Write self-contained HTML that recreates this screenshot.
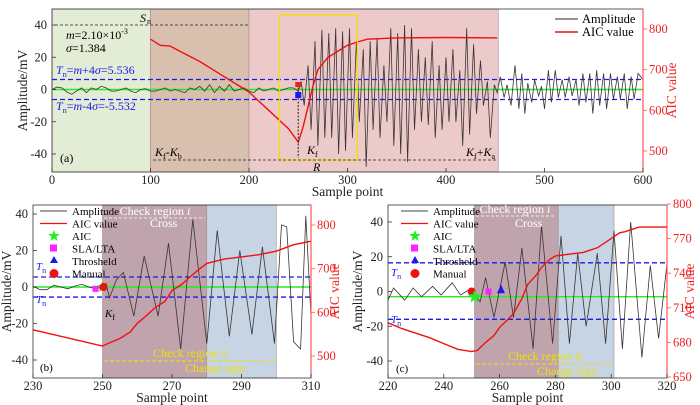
<!DOCTYPE html>
<html><head><meta charset="utf-8"><style>
html,body{margin:0;padding:0;background:#fff;}
svg{display:block;font-family:"Liberation Serif",serif;}
</style></head><body>
<svg id="fig" width="700" height="405" viewBox="0 0 700 405" xmlns="http://www.w3.org/2000/svg"></svg>
<script>
// ---------- Panel (a) data ----------
const aNoiseX = [0,5,10,15,20,25,30,35,40,45,50,55,60,65,70,75,80,85,90,95,100,105,110,115,120,125,130,135,140,145,150,155,160,165,170,175,180,185,190,195,200,205,210,215,220,225,230,235,240,245,250];
const aNoiseY = [0,1.5,1,-1.5,-3,-1,1,-2,1,0,2,1,-1,-1,0,1,-1,-2,0,0.5,-1,-1,0,1,-1,0,-1,-2,1,0,2,-1,3,-2,2,-1,3,-1,0,1,-1,-2,1,-1,0,1,-1,0,1,1,-1];
const aOscX = [253,256,260,263,267,270,274,277,281,284,288,291,295,298,302,305,309,312,316,319,323,326,330,333,337,340,344,347,351,354,358,361,365,368,372,375,379,382,386,389,393,396,400,403,407,410,414,417,421,424,428,431,435,438,442,445,449,452];
const aOscY = [5,-10,15,-25,30,-35,37,-30,35,-30,38,-40,36,-38,38,-30,30,-20,25,-48,30,-25,32,-30,15,-20,38,-35,35,-40,40,-45,38,-25,25,-20,20,-22,30,-30,15,-25,20,-20,25,-20,12,-35,38,-28,28,-15,18,-10,5,-30,3,-2];
const aTailX = [455,459,462,466,470,474,477,480,483,487,490,494,497,500,504,507,511,514,518,521,525,528,532,535,539,542,546,549,553,556,560,563,567,570,574,577,581,584,588,591,595,600];
const aTailY = [8,-5,3,-10,15,-12,10,-15,4,-8,6,-4,2,-12,12,-8,12,-5,6,-5,8,-4,6,-10,10,-8,10,-15,12,-10,10,-12,10,-6,8,-6,10,-12,8,-6,10,6];
const aAicX = [100,110,120,130,150,170,190,200,220,240,250,255,260,265,270,280,290,300,310,320,350,400,452];
const aAicY = [775,760,758,745,720,690,660,645,600,555,522,560,610,660,700,730,745,760,768,775,778,779,778];
const aXTicks = [0,100,200,300,400,500,600];
const aYTicks = [40,20,0,-20,-40];
const aRTicks = [800,700,600,500];

// ---------- Panel (b) data ----------
const bX = [230,232,234,236,238,240,242,244,246,248,250,251,252,254,256,259,262,266,269,272.5,276,280,283,286.5,289.5,293,296,299.5,301.5,303,305,307,308.5,310];
const bY = [0.5,-1.5,-1.5,1,0,-1,0.5,1.5,0,-1,0,2,-6,4,8,-16,17,-16,24,-34,37,-31,31,-27,20,-26,22,-31,34,33,-30,-34,39,-16];
const bAicX = [230,250,252,255,258,260,263,265,268,270,273,275,278,280,285,290,295,300,305,310];
const bAicY = [560,523,530,540,555,575,595,610,625,650,665,680,700,712,722,727,732,740,755,763];
const bXTicks = [230,250,270,290,310];
const bYTicks = [40,20,0,-20,-40];
const bRTicks = [800,700,600,500];

// ---------- Panel (c) data ----------
const cX = [220,222,226,229,232,236,239,243,246,249,251,253,255,258,262,265,268,272,275,279,282,285,288,291,295,298,301,304,307,311,314,317,320];
const cY = [-5,2,-5,2,-3,3,-2,5,-2,1,-2,-6,8,-15,17,-15,25,-33,38,-30,32,-30,22,-20,22,-30,35,-33,40,-38,15,-27,16];
const cAicX = [220,225,230,235,240,245,250,252,255,258,260,263,265,268,270,273,275,278,280,290,295,300,303,305,310,320];
const cAicY = [697,692,688,684,679,674,672,673,680,686,693,700,705,718,730,738,745,752,755,758,762,770,775,776,780,780];
const cXTicks = [220,240,260,280,300,320];
const cYTicks = [40,20,0,-20,-40];
const cRTicks = [800,770,740,710,680,650];

const NS = "http://www.w3.org/2000/svg";
const svg = document.getElementById('fig');
function el(tag, attrs, parent, text){
  const e = document.createElementNS(NS, tag);
  for (const k in attrs) e.setAttribute(k, attrs[k]);
  if (text !== undefined) e.textContent = text;
  (parent || svg).appendChild(e);
  return e;
}
function scale(d0,d1,r0,r1){ return v => r0 + (v-d0)/(d1-d0)*(r1-r0); }
function pathFrom(xs, ys, sx, sy){
  return xs.map((x,i)=>(i?'L':'M')+sx(x).toFixed(1)+','+sy(ys[i]).toFixed(1)).join(' ');
}

function panel(cfg){
  const g = el('g', {});
  
  
  const sx = scale(cfg.xd[0], cfg.xd[1], cfg.L, cfg.R);
  const sy = scale(cfg.yd[0], cfg.yd[1], cfg.y0a, cfg.y1a);
  const sr = scale(cfg.rd[0], cfg.rd[1], cfg.r0a, cfg.r1a);
  cfg.regions.forEach(r=>{
    const rc = el('rect', {x:sx(r[0]), y:cfg.T, width:sx(r[1])-sx(r[0]), height:cfg.B-cfg.T, fill:r[2], stroke:'#a09090','stroke-width':0.6}, g);
    
    
  });
  const gl = el('line', {x1:cfg.L, x2:cfg.R, y1:sy(cfg.green), y2:sy(cfg.green), stroke:'#22ee22','stroke-width':1.4}, g);
  
  
  cfg.thr.forEach(t=>{
    const tl = el('line', {x1:cfg.L, x2:cfg.R, y1:sy(t), y2:sy(t), stroke:'#1a1aee','stroke-width':1.3,'stroke-dasharray':'5,3'}, g);
    
    
  });
  cfg.amp.forEach(a=>{
    const p = el('path', {d:pathFrom(a[0], a[1], sx, sy), fill:'none', stroke:'#3a3434','stroke-width':0.8}, g);
    
    
  });
  const ap = el('path', {d:pathFrom(cfg.aicX, cfg.aicY, sx, sr), fill:'none', stroke:'#ee1111','stroke-width':1.4}, g);
  
  
  el('rect', {x:cfg.L, y:cfg.T, width:cfg.R-cfg.L, height:cfg.B-cfg.T, fill:'none', stroke:'#333','stroke-width':0.8}, g);
  el('line', {x1:cfg.R, x2:cfg.R, y1:cfg.T, y2:cfg.B, stroke:'#ff5555','stroke-width':1.2}, g);
  cfg.xt.forEach(t=>{
    const x = sx(t);
    el('line',{x1:x,x2:x,y1:cfg.B,y2:cfg.B-4,stroke:'#333','stroke-width':0.8},g);
    const tx = el('text',{x:x,y:cfg.B+12,'font-size':12.5,'text-anchor':'middle',fill:'#222'},g,t);
    
    
  });
  cfg.yt.forEach(t=>{
    const y = sy(t);
    el('line',{x1:cfg.L,x2:cfg.L+4,y1:y,y2:y,stroke:'#333','stroke-width':0.8},g);
    const tx = el('text',{x:cfg.L-5,y:y+4,'font-size':12.5,'text-anchor':'end',fill:'#222'},g,t);
    
    
  });
  cfg.rt.forEach(t=>{
    const y = sr(t);
    el('line',{x1:cfg.R,x2:cfg.R+4,y1:y,y2:y,stroke:'#ff5555','stroke-width':0.8},g);
    const tx = el('text',{x:cfg.R+6,y:y+4,'font-size':12.5,fill:'#ee2222'},g,t);
    
    
  });
  const xl = el('text',{x:(cfg.L+cfg.R)/2,y:cfg.B+24,'font-size':13.5,'text-anchor':'middle',fill:'#222'},g,'Sample point');
  
  
  const yl = el('text',{x:0,y:0,'font-size':13.5,'text-anchor':'middle',fill:'#222',transform:`translate(${cfg.L-cfg.ltitle},${(cfg.T+cfg.B)/2}) rotate(-90)`},g,'Amplitude/mV');
  
  
  const rl = el('text',{x:0,y:0,'font-size':13.5,'text-anchor':'middle',fill:'#ee2222',transform:`translate(${cfg.R+cfg.rtitle},${(cfg.T+cfg.B)/2}) rotate(-90)`},g,'AIC value');
  
  
  return {g, sx, sy, sr};
}

const A = panel({name:'panel-a', L:52, R:643, T:9, B:172, xd:[0,600], yd:[40,-40], y0a:25, y1a:154,
  rd:[800,500], r0a:29, r1a:151, green:0, thr:[6.2,-6.2],
  regions:[[0,100,'#e3ecd4','noise-region'],[100,200,'#d9bfae','kf-kb-region'],[200,453,'#edcaca','signal-region']],
  amp:[[aNoiseX.concat(aOscX).concat(aTailX), aNoiseY.concat(aOscY).concat(aTailY)]],
  aicX:aAicX, aicY:aAicY, xt:aXTicks, yt:aYTicks, rt:aRTicks, rtitle:33, ltitle:25});
(function(){
  const g=A.g, sx=A.sx, sy=A.sy;
  el('rect',{x:sx(231),y:15,width:sx(310)-sx(231),height:145,fill:'none',stroke:'#f0e000','stroke-width':1.3},g);
  el('line',{x1:55,x2:248,y1:25,y2:25,stroke:'#222','stroke-width':0.8,'stroke-dasharray':'3,2'},g);
  el('text',{x:140,y:22,'font-size':12,'font-style':'italic'},g,'S');
  el('text',{x:147,y:24,'font-size':8}, g,'n');
  el('text',{x:66,y:39,'font-size':12},g).innerHTML='<tspan font-style="italic">m</tspan>=2.10×10<tspan font-size="8" dy="-5">-3</tspan>';
  el('text',{x:66,y:52,'font-size':12},g).innerHTML='<tspan font-style="italic">σ</tspan>=1.384';
  el('text',{x:56,y:74,'font-size':12,fill:'#1a1aee'},g).innerHTML='<tspan font-style="italic">T</tspan><tspan font-size="8" dy="3">n</tspan><tspan dy="-3">=</tspan><tspan font-style="italic">m</tspan>+4<tspan font-style="italic">σ</tspan>=5.536';
  el('text',{x:56,y:110,'font-size':12,fill:'#1a1aee'},g).innerHTML='<tspan font-style="italic">T</tspan><tspan font-size="8" dy="3">n</tspan><tspan dy="-3">=</tspan><tspan font-style="italic">m</tspan>-4<tspan font-style="italic">σ</tspan>=-5.532';
  el('text',{x:60,y:162,'font-size':12},g,'(a)');
  el('line',{x1:153,x2:496,y1:160,y2:160,stroke:'#222','stroke-width':0.8,'stroke-dasharray':'3,2'},g);
  el('text',{x:155,y:156,'font-size':12},g).innerHTML='<tspan font-style="italic">K</tspan><tspan font-size="8" dy="3">f</tspan><tspan dy="-3">-</tspan><tspan font-style="italic">K</tspan><tspan font-size="8" dy="3">b</tspan>';
  el('text',{x:466,y:156,'font-size':12},g).innerHTML='<tspan font-style="italic">K</tspan><tspan font-size="8" dy="3">f</tspan><tspan dy="-3">+</tspan><tspan font-style="italic">K</tspan><tspan font-size="8" dy="3">a</tspan>';
  el('text',{x:307,y:154,'font-size':12},g).innerHTML='<tspan font-style="italic">K</tspan><tspan font-size="8" dy="3">f</tspan>';
  el('text',{x:313,y:171,'font-size':12,'font-style':'italic'},g,'R');
  el('line',{x1:sx(250),x2:sx(250),y1:84,y2:158,stroke:'#553333','stroke-width':1.2,'stroke-dasharray':'2,1.5'},g);
  el('rect',{x:sx(250)-3,y:82,width:6,height:5,fill:'#ee2222'},g);
  el('rect',{x:sx(250)-3,y:92,width:6,height:6,fill:'#1a1aee'},g);
  const lg=el('g',{},g);  
  el('line',{x1:555,x2:578,y1:19,y2:19,stroke:'#555','stroke-width':1.2},lg);
  el('text',{x:582,y:23,'font-size':12.5},lg,'Amplitude');
  el('line',{x1:555,x2:578,y1:32,y2:32,stroke:'#ee1111','stroke-width':1.4},lg);
  el('text',{x:582,y:36,'font-size':12.5},lg,'AIC value');
})();

function legendB(g, x, y){
  const lg=el('g',{},g);  
  const rows=['Amplitude','AIC value','AIC','SLA/LTA','Throsheld','Manual'];
  rows.forEach((r,i)=>{
    const yy=y+i*12.5;
    el('text',{x:x+27,y:yy+4,'font-size':11},lg,r);
  });
  el('line',{x1:x-5,x2:x+22,y1:y,y2:y,stroke:'#444','stroke-width':1},lg);
  el('line',{x1:x-5,x2:x+22,y1:y+12.5,y2:y+12.5,stroke:'#ee1111','stroke-width':1.3},lg);
  star(lg,x+9,y+25,6,'#22ee22');
  el('rect',{x:x+5,y:y+33.5,width:7,height:7,fill:'#ff22ff'},lg);
  el('polygon',{points:`${x+9},${y+45} ${x+13},${y+52} ${x+5},${y+52}`,fill:'#1a1aee'},lg);
  el('circle',{cx:x+9,cy:y+62.5,r:4.5,fill:'#ee1111'},lg);
}
function star(g,cx,cy,r,c){
  let p=[];for(let i=0;i<10;i++){const a=-Math.PI/2+i*Math.PI/5;const rr=i%2?r*0.42:r;p.push((cx+rr*Math.cos(a)).toFixed(1)+','+(cy+rr*Math.sin(a)).toFixed(1));}
  return el('polygon',{points:p.join(' '),fill:c},g);
}
function tn(g,x,y){
  el('text',{x:x,y:y,'font-size':11,fill:'#1a1aee'},g).innerHTML='<tspan font-style="italic">T</tspan><tspan font-size="8" dy="3">n</tspan>';
}

const Bp = panel({name:'panel-b', L:33, R:311, T:205, B:378, xd:[230,310], yd:[40,-40], y0a:214, y1a:360,
  rd:[800,500], r0a:225, r1a:356, green:0, thr:[5.5,-5.5],
  regions:[[250,280,'#bfa4ae','check-region-i'],[280,300,'#c6d4e4','check-region-ii']],
  amp:[[bX,bY]], aicX:bAicX, aicY:bAicY, xt:bXTicks, yt:bYTicks, rt:bRTicks, rtitle:28, ltitle:22});
(function(){
  const g=Bp.g, sx=Bp.sx, sy=Bp.sy;
  legendB(g,45,211);
  el('text',{x:155,y:215,'font-size':12,fill:'#fff','text-anchor':'middle'},g).innerHTML='Check region <tspan font-style="italic">i</tspan>';
  el('line',{x1:104,x2:205,y1:218,y2:218,stroke:'#fff','stroke-width':0.8,'stroke-dasharray':'3,2'},g);
  el('text',{x:150,y:227,'font-size':12,fill:'#fff'},g,'Cross');
  el('text',{x:190,y:357,'font-size':12,fill:'#f0e000','text-anchor':'middle'},g).innerHTML='Check region <tspan font-style="italic">ii</tspan>';
  el('line',{x1:104,x2:275,y1:361,y2:361,stroke:'#f0e000','stroke-width':1,'stroke-dasharray':'4,2'},g);
  el('text',{x:185,y:372,'font-size':12,fill:'#f0e000'},g,'Change sign');
  tn(g,36,270); tn(g,36,303);
  el('text',{x:105,y:317,'font-size':11},g).innerHTML='<tspan font-style="italic">K</tspan><tspan font-size="8" dy="3">f</tspan>';
  el('text',{x:40,y:371,'font-size':11},g,'(b)');
  el('rect',{x:sx(248)-3,y:sy(-1)-3,width:6,height:6,fill:'#ff22ff'},g);
  el('polygon',{points:`${sx(250)},${sy(3)} ${sx(250)+3},${sy(-1)} ${sx(250)-3},${sy(-1)}`,fill:'#1a1aee'},g);
  star(g,sx(250),sy(0),6,'#22ee22');
  el('circle',{cx:sx(250)+1,cy:sy(0),r:4,fill:'#ee1111'},g);
})();

const Cp = panel({name:'panel-c', L:388, R:667, T:205, B:378, xd:[220,320], yd:[40,-40], y0a:222, y1a:361,
  rd:[800,650], r0a:204, r1a:377, green:-3, thr:[16.5,-16],
  regions:[[251,281,'#bfa4ae','check-region-i'],[281,301,'#c6d4e4','check-region-ii']],
  amp:[[cX,cY]], aicX:cAicX, aicY:cAicY, xt:cXTicks, yt:cYTicks, rt:cRTicks, rtitle:27, ltitle:26});
(function(){
  const g=Cp.g, sx=Cp.sx, sy=Cp.sy;
  legendB(g,406,211);
  el('text',{x:515,y:213,'font-size':12,fill:'#fff','text-anchor':'middle'},g).innerHTML='Check region <tspan font-style="italic">i</tspan>';
  el('line',{x1:476,x2:556,y1:216,y2:216,stroke:'#fff','stroke-width':0.8,'stroke-dasharray':'3,2'},g);
  el('text',{x:515,y:227,'font-size':12,fill:'#fff'},g,'Cross');
  el('text',{x:545,y:360,'font-size':12,fill:'#f0e000','text-anchor':'middle'},g).innerHTML='Check region <tspan font-style="italic">ii</tspan>';
  el('line',{x1:476,x2:612,y1:364,y2:364,stroke:'#f0e000','stroke-width':1,'stroke-dasharray':'4,2'},g);
  el('text',{x:537,y:375,'font-size':12,fill:'#f0e000'},g,'Change sign');
  tn(g,391,276); tn(g,391,323);
  el('text',{x:396,y:372,'font-size':11},g,'(c)');
  el('circle',{cx:sx(250),cy:sy(0),r:4,fill:'#ee1111'},g);
  star(g,sx(251),sy(-3),7,'#22ee22');
  el('rect',{x:sx(256)-3,y:sy(0)-3,width:6,height:6,fill:'#ff22ff'},g);
  el('polygon',{points:`${sx(260.5)},${sy(4)} ${sx(260.5)+4},${sy(-1)} ${sx(260.5)-4},${sy(-1)}`,fill:'#1a1aee'},g);
})();
</script>
</body></html>
